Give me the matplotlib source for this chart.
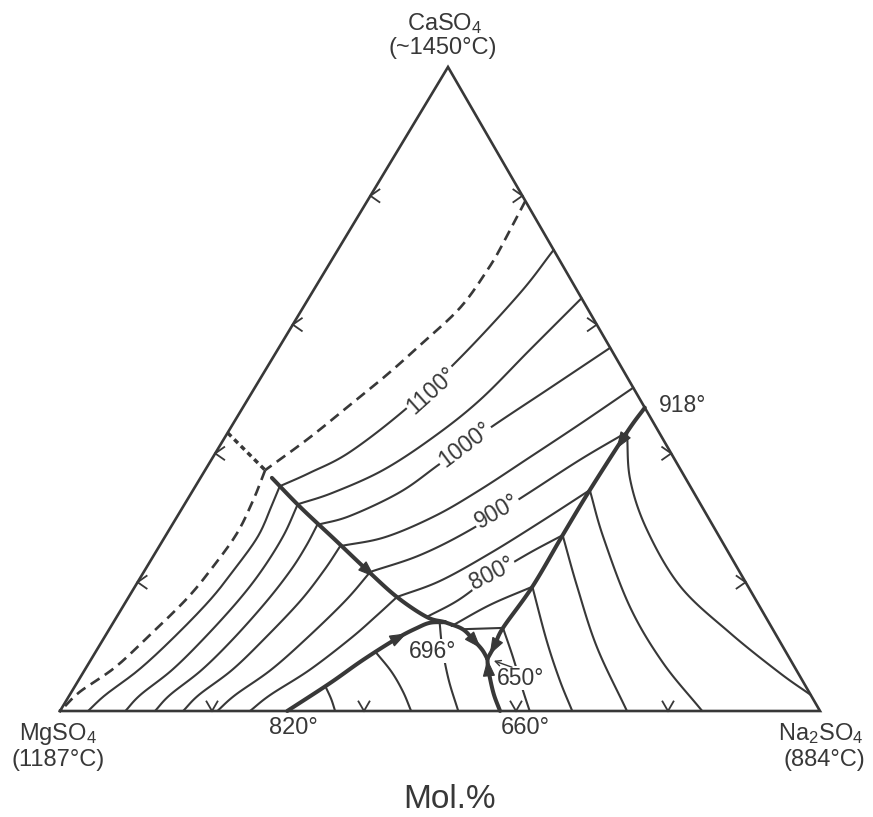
import numpy as np
import matplotlib
matplotlib.use('Agg')
import matplotlib.pyplot as plt
from matplotlib.patches import Polygon

plt.rcParams['font.family'] = ['Liberation Sans', 'DejaVu Sans']
plt.rcParams['mathtext.fontset'] = 'custom'
plt.rcParams['mathtext.rm'] = 'Liberation Sans'
plt.rcParams['mathtext.it'] = 'Liberation Sans:italic'

INK = '#383838'

# ---- data: compositions in mol% as (Na2SO4, CaSO4); MgSO4 is the rest ----
edge_ticks = [20, 40, 60, 80]

# 1150 isotherm (dashed) and the uncertain CaSO4/MgSO4 boundary (dotted)
iso1150_ca = [(20.8, 79.2), (21.2, 73.1), (21.3, 68.9), (20.7, 62.7), (18.5, 57.1),
              (16.5, 52.5), (14.3, 48.3), (11.2, 42.5), (7.9, 37.4)]
iso1150_mg = [(7.9, 37.4), (8.7, 32.8), (9.2, 27.6), (8.7, 22.4), (7.8, 17.5),
              (5.8, 11.8), (3.8, 6.8), (1.1, 3.0), (0.2, 0.5)]
bnd_dotted = [(0, 43.2), (7.9, 37.4)]

# boundary curves (thick)
cot_ca_mg = [(9.4, 36.2), (15.4, 31.7), (22.6, 26.6), (29.2, 21.9), (35.3, 17.7),
             (40.8, 14.6), (43.6, 13.8)]
cot_820 = [(29.9, 0), (33.3, 4.3), (35.8, 7.9), (38.6, 11.3), (40.4, 12.9),
           (41.7, 13.7), (43.6, 13.8)]
cot_696 = [(43.6, 13.8), (46.5, 12.7), (48.8, 11.0), (50.7, 9.5), (52.1, 8.1)]
cot_918 = [(52.9, 47.1), (52.5, 43.3), (52.2, 34.3), (52.2, 27.3), (52.3, 19.3),
           (51.7, 12.9), (52.0, 10.2), (52.1, 8.1)]
cot_660 = [(52.1, 8.1), (53.1, 6.4), (55.6, 2.8), (57.9, 0)]

# isotherms, CaSO4 field
ca1100 = [(11.1, 34.9), (14.0, 37.0), (17.6, 40.2), (21.6, 47.0), (24.7, 55.0), (27.4, 64.9), (28.4, 71.6)]
ca1050 = [(14.9, 32.1), (18.6, 33.9), (23.4, 37.4), (27.4, 42.5), (30.6, 48.3), (33.2, 56.1), (35.9, 64.1)]
ca1000 = [(19.1, 28.9), (22.7, 30.3), (27.4, 34.0), (30.4, 38.4), (34.1, 43.9), (38.9, 50.2), (43.6, 56.4)]
ca950 = [(23.8, 25.6), (29.0, 27.0), (33.9, 30.3), (37.7, 34.3), (41.7, 39.4), (45.7, 44.6), (49.8, 50.2)]
ca900 = [(29.8, 21.6), (35.0, 24.2), (39.6, 28.1), (44.1, 33.5), (48.5, 39.0), (52.5, 43.3)]
ca850 = [(35.3, 17.7), (39.7, 20.2), (44.1, 24.5), (48.2, 29.3), (52.2, 34.3)]
ca800 = [(40.8, 14.6), (43.6, 17.2), (46.1, 21.0), (49.1, 24.4), (52.2, 27.3)]
ca750 = [(44.8, 13.2), (48.2, 16.5), (52.3, 19.3)]
ca700 = [(46.5, 12.7), (51.7, 12.9)]

# isotherms, MgSO4 field
mg1100 = [(11.1, 34.9), (11.5, 32.3), (12.2, 27.2), (11.7, 21.9), (10.9, 17.1),
          (9.1, 11.3), (7.1, 6.4), (4.7, 2.5), (3.7, 0)]
mg1050 = [(14.9, 32.1), (15.5, 27.2), (15.4, 21.9), (14.7, 17.1), (13.2, 11.3),
          (11.5, 6.4), (9.3, 2.5), (8.6, 0)]
mg1000 = [(19.1, 28.9), (19.3, 25.6), (19.2, 21.9), (18.5, 17.1), (17.1, 11.3),
          (15.4, 6.4), (13.2, 2.5), (12.5, 0)]
mg950 = [(23.8, 25.6), (23.6, 21.9), (22.9, 17.1), (21.2, 11.3), (19.4, 6.4), (17.0, 2.5), (16.2, 0)]
mg900 = [(29.8, 21.6), (28.8, 17.1), (26.7, 11.3), (24.5, 6.4), (21.8, 2.5), (20.7, 0)]
mg850 = [(35.3, 17.7), (34.1, 14.8), (32.5, 11.3), (29.6, 6.4), (26.4, 2.5), (25.0, 0)]

# isotherms, field below the 820-696 curve
md800 = [(32.9, 3.9), (34.7, 1.9), (36.2, 0)]
md750 = [(36.8, 9.2), (40.5, 6.1), (43.6, 3.0), (46.2, 0)]
md700 = [(42.9, 13.8), (45.3, 9.8), (48.7, 4.8), (52.4, 0)]

# isotherms, Na2SO4 field
na700 = [(51.7, 12.9), (55.3, 8.4), (59.2, 3.3), (61.8, 0)]
na750 = [(52.3, 19.3), (58.4, 11.0), (63.3, 4.8), (67.4, 0)]
na800 = [(52.2, 27.3), (58.2, 19.3), (65.6, 9.9), (74.6, 0)]
na850 = [(52.2, 34.3), (57.7, 27.0), (66.8, 16.1), (75.5, 7.5), (84.5, 0)]
na900 = [(52.5, 43.3), (56.7, 35.9), (62.9, 28.1), (71.8, 19.3), (82.0, 12.1), (91.7, 5.9), (97.5, 2.5)]

# arrowheads: (position, pointing toward)
arrows = [((29.2, 21.9), (35.3, 17.7)),
          ((38.6, 11.3), (40.4, 12.9)),
          ((48.8, 11.0), (50.7, 9.5)),
          ((52.0, 10.2), (52.1, 8.1)),
          ((53.1, 6.4), (52.1, 8.1)),
          ((52.5, 42.1), (52.2, 34.3))]

# isotherm labels
iso_labels = ['1100°', '1000°', '900°', '800°']
iso_label_pos = [(23.5, 49.8), (32.2, 41.3), (41.7, 30.9), (45.9, 21.4)]
iso_label_rot = [42, 37, 30, 27]
point_labels = ['696°', '650°', '918°']
point_label_pos = [(44.3, 9.3), (58.0, 5.1), (57.7, 47.4)]
eutectic_650 = (53.1, 7.8)

# ---- layout (figure pixels) ----
MG = (60, 711)
NA = (820, 711)
CA = (448, 67)


def tern(na, ca):
    na = np.asarray(na, float) / 100.0
    ca = np.asarray(ca, float) / 100.0
    mg = 1.0 - na - ca
    x = mg * MG[0] + na * NA[0] + ca * CA[0]
    y = mg * MG[1] + na * NA[1] + ca * CA[1]
    return x, y


def smooth(p, n=16):
    if len(p) < 3:
        return p
    p = np.vstack([2 * p[0] - p[1], p, 2 * p[-1] - p[-2]])
    t = np.linspace(0, 1, n, endpoint=False)[:, None]
    out = []
    for i in range(1, len(p) - 2):
        p0, p1, p2, p3 = p[i - 1], p[i], p[i + 1], p[i + 2]
        out.append(0.5 * (2 * p1 + (-p0 + p2) * t + (2 * p0 - 5 * p1 + 4 * p2 - p3) * t ** 2
                          + (-p0 + 3 * p1 - 3 * p2 + p3) * t ** 3))
    out.append(p[-2][None])
    return np.vstack(out)


def draw(ax, pts, **kw):
    pts = np.asarray(pts, float)
    x, y = tern(pts[:, 0], pts[:, 1])
    xy = smooth(np.column_stack([x, y]))
    ax.plot(xy[:, 0], xy[:, 1], color=INK, solid_capstyle='round', **kw)


fig = plt.figure(figsize=(8.73, 8.17), dpi=100)
ax = fig.add_axes([0, 0, 1, 1])
ax.set_xlim(0, 873)
ax.set_ylim(817, 0)
ax.axis('off')

# triangle
tri = np.array([(0, 0), (100, 0), (0, 100), (0, 0)], float)
tx, ty = tern(tri[:, 0], tri[:, 1])
ax.plot(tx, ty, color=INK, lw=1.9, solid_joinstyle='miter')

# chevrons on the edges
arm = 11
a = np.radians(35)
for v in edge_ticks:
    x, y = tern(0, v)
    for s in (-1, 1):
        ax.plot([x, x + arm * np.cos(a)], [y, y + s * arm * np.sin(a)], color=INK, lw=1.3)
    x, y = tern(100 - v, v)
    for s in (-1, 1):
        ax.plot([x, x - arm * np.cos(a)], [y, y + s * arm * np.sin(a)], color=INK, lw=1.3)
    x, y = tern(v, 0)
    for s in (-1, 1):
        ax.plot([x, x + s * arm * np.sin(np.radians(30))], [y, y - arm * np.cos(np.radians(30))],
                color=INK, lw=1.3)

# isotherms
for c in [ca1100, ca1050, ca1000, ca950, ca900, ca850, ca800, ca750, ca700,
          mg1100, mg1050, mg1000, mg950, mg900, mg850,
          md800, md750, md700,
          na700, na750, na800, na850, na900]:
    draw(ax, c, lw=1.5, zorder=2)

draw(ax, iso1150_ca, lw=1.9, linestyle=(0, (4.0, 2.4)), zorder=2)
draw(ax, iso1150_mg, lw=1.9, linestyle=(0, (4.0, 2.4)), zorder=2)
draw(ax, bnd_dotted, lw=2.5, linestyle=(0, (1.5, 1.2)), zorder=2)

# boundary curves
for c in [cot_ca_mg, cot_820, cot_696, cot_918, cot_660]:
    draw(ax, c, lw=2.9, zorder=3)

# arrowheads
L, W = 15, 11
for pos, to in arrows:
    p = np.array(tern(*pos))
    q = np.array(tern(*to))
    u = (q - p) / np.hypot(*(q - p))
    nrm = np.array([-u[1], u[0]])
    tip = p + u * L * 0.6
    base = p - u * L * 0.4
    ax.add_patch(Polygon([tip, base + nrm * W / 2, base - nrm * W / 2], closed=True,
                         fc=INK, ec=INK, lw=0.8, zorder=4))

# labels on isotherms
for s, pos, rot in zip(iso_labels, iso_label_pos, iso_label_rot):
    x, y = tern(*pos)
    ax.text(x, y, s, fontsize=16.5, color=INK, ha='center', va='center', rotation=rot,
            rotation_mode='anchor', zorder=5,
            bbox=dict(fc='white', ec='none', pad=1.0))

for s, pos in zip(point_labels, point_label_pos):
    x, y = tern(*pos)
    ax.text(x, y, s, fontsize=16.5, color=INK, ha='center', va='center', zorder=5,
            bbox=dict(fc='white', ec='none', pad=0.5))

ex, ey = tern(*eutectic_650)
lx, ly = tern(56.0, 6.8)
ax.annotate('', xy=(ex, ey), xytext=(lx, ly), zorder=6,
            arrowprops=dict(arrowstyle='->', color=INK, lw=1.0, shrinkA=0, shrinkB=0))

# corner and axis texts
kw = dict(fontsize=17, color=INK, ha='center', va='center')
ax.text(445, 24, 'CaSO$_4$', **kw)
ax.text(443, 48, '(~1450°C)', **kw)
ax.text(58, 734, 'MgSO$_4$', **kw)
ax.text(58, 760, '(1187°C)', **kw)
ax.text(821, 734, 'Na$_2$SO$_4$', **kw)
ax.text(824, 760, '(884°C)', **kw)
ax.text(293, 728, '820°', **kw)
ax.text(525, 728, '660°', **kw)
ax.text(450, 800, 'Mol.%', fontsize=24, color=INK, ha='center', va='center')

fig.savefig('out.png', dpi=100, facecolor='white')
